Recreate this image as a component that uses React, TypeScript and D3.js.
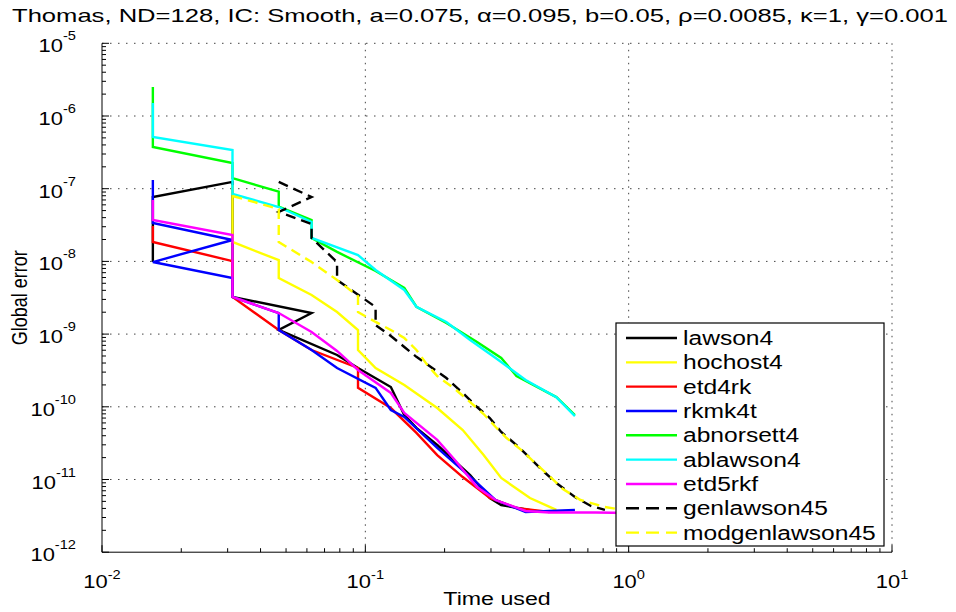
import React from "react";
import * as d3 from "d3";

// time used (s) and global error, one pair of arrays per method
const lawson4T = [0.0156, 0.0156, 0.0313, 0.0313, 0.0625, 0.0469, 0.0781, 0.0938, 0.125, 0.1406, 0.1563, 0.1875, 0.25, 0.2969, 0.3281, 0.4375, 0.5];
const lawson4E = [9.8e-9, 7.69e-8, 1.24e-7, 3.24e-9, 1.95e-9, 1.14e-9, 5.16e-10, 3.42e-10, 1.87e-10, 7.71e-11, 5.12e-11, 2.98e-11, 1.15e-11, 5.57e-12, 4.46e-12, 3.69e-12, 3.6e-12];

const hochost4T = [0.0313, 0.0313, 0.0469, 0.0469, 0.0625, 0.0781, 0.0938, 0.0938, 0.1094, 0.1406, 0.1875, 0.2344, 0.2813, 0.3281, 0.4219, 0.5313];
const hochost4E = [1.12e-7, 1.85e-8, 1.04e-8, 5.92e-9, 3.45e-9, 2.01e-9, 1.14e-9, 6.04e-10, 3.42e-10, 2.0e-10, 9.62e-11, 4.79e-11, 2.17e-11, 1.05e-11, 5.57e-12, 3.81e-12];

const etd4rkT = [0.0156, 0.0156, 0.0313, 0.0313, 0.0469, 0.0625, 0.0938, 0.0938, 0.125, 0.1563, 0.1875, 0.2344, 0.2969, 0.375, 0.5];
const etd4rkE = [3.07e-8, 1.85e-8, 1.01e-8, 3.24e-9, 1.14e-9, 6.04e-10, 3.42e-10, 1.82e-10, 9.62e-11, 4.37e-11, 2.17e-11, 1.08e-11, 5.57e-12, 4.06e-12, 3.57e-12];

const rkmk4tT = [0.0156, 0.0156, 0.0313, 0.0156, 0.0313, 0.0313, 0.0469, 0.0469, 0.0625, 0.0781, 0.1094, 0.125, 0.1406, 0.1875, 0.2656, 0.3125, 0.4063, 0.5, 0.625];
const rkmk4tE = [1.32e-7, 3.37e-8, 1.97e-8, 9.8e-9, 5.92e-9, 3.24e-9, 1.95e-9, 1.14e-9, 6.04e-10, 3.42e-10, 1.82e-10, 9.04e-11, 7.24e-11, 2.72e-11, 8.96e-12, 5.22e-12, 3.57e-12, 3.69e-12, 3.81e-12];

const abnorsett4T = [0.0156, 0.0156, 0.0313, 0.0313, 0.0469, 0.0469, 0.0625, 0.0625, 0.0781, 0.1094, 0.1406, 0.1563, 0.2031, 0.2656, 0.3281, 0.375, 0.5313, 0.625];
const abnorsett4E = [2.51e-6, 3.75e-7, 2.25e-7, 1.4e-7, 9.1e-8, 5.65e-8, 3.71e-8, 2.1e-8, 1.35e-8, 7.38e-9, 4.31e-9, 2.38e-9, 1.42e-9, 7.78e-10, 4.69e-10, 2.65e-10, 1.36e-10, 7.71e-11];

const ablawson4T = [0.0156, 0.0156, 0.0313, 0.0313, 0.0469, 0.0625, 0.0625, 0.0938, 0.1094, 0.1406, 0.1563, 0.2031, 0.25, 0.3125, 0.4063, 0.5313, 0.625];
const ablawson4E = [1.51e-6, 5.14e-7, 3.4e-7, 8.45e-8, 5.6e-8, 3.48e-8, 2.1e-8, 1.22e-8, 7.62e-9, 4.05e-9, 2.38e-9, 1.47e-9, 8.3e-10, 4.69e-10, 2.34e-10, 1.36e-10, 7.46e-11];

const etd5rkfT = [0.0156, 0.0156, 0.0313, 0.0313, 0.0469, 0.0625, 0.0781, 0.0938, 0.125, 0.1406, 0.1875, 0.2188, 0.2656, 0.3125, 0.4063, 0.5, 0.75, 1.0];
const etd5rkfE = [7.0e-8, 3.71e-8, 2.31e-8, 3.24e-9, 1.95e-9, 1.07e-9, 5.86e-10, 3.21e-10, 1.55e-10, 8.22e-11, 3.5e-11, 1.86e-11, 7.88e-12, 5.22e-12, 3.69e-12, 3.52e-12, 3.52e-12, 3.46e-12];

const genlawson45T = [0.0469, 0.0625, 0.0469, 0.0625, 0.0625, 0.0781, 0.0781, 0.1094, 0.1094, 0.125, 0.1406, 0.1563, 0.2031, 0.2344, 0.2656, 0.2969, 0.3281, 0.375, 0.4219, 0.4688, 0.5313, 0.625, 0.7188, 0.8125];
const genlawson45E = [1.24e-7, 7.69e-8, 4.79e-8, 3.27e-8, 2.1e-8, 9.8e-9, 5.55e-9, 2.36e-9, 1.33e-9, 9.42e-10, 6.65e-10, 4.87e-10, 2.49e-10, 1.55e-10, 9.93e-11, 7.01e-11, 4.5e-11, 2.98e-11, 1.98e-11, 1.35e-11, 8.96e-12, 5.74e-12, 4.33e-12, 3.81e-12];

const modgenlawson45T = [0.0313, 0.0469, 0.0469, 0.0625, 0.0781, 0.0938, 0.0938, 0.1094, 0.125, 0.1406, 0.1563, 0.1719, 0.1875, 0.2188, 0.25, 0.2813, 0.3125, 0.3438, 0.3906, 0.4375, 0.5, 0.5625, 0.6563, 0.8125, 1.0];
const modgenlawson45E = [7.94e-8, 5.26e-8, 1.85e-8, 9.8e-9, 5.55e-9, 3.33e-9, 2.01e-9, 1.47e-9, 1.14e-9, 8.83e-10, 6.04e-10, 3.76e-10, 2.65e-10, 1.76e-10, 1.16e-10, 7.96e-11, 5.27e-11, 3.72e-11, 2.55e-11, 1.74e-11, 1.12e-11, 7.4e-12, 5.22e-12, 4.19e-12, 3.69e-12];

const xExps = [-2, -1, 0, 1];
const yExps = [-12, -11, -10, -9, -8, -7, -6, -5];

const title = "Thomas, ND=128, IC: Smooth, a=0.075, \u03b1=0.095, b=0.05, \u03c1=0.0085, \u03ba=1, \u03b3=0.001";

const series = [
  { name: "lawson4", t: lawson4T, e: lawson4E, color: "#000000", dashed: false },
  { name: "hochost4", t: hochost4T, e: hochost4E, color: "#ffff00", dashed: false },
  { name: "etd4rk", t: etd4rkT, e: etd4rkE, color: "#ff0000", dashed: false },
  { name: "rkmk4t", t: rkmk4tT, e: rkmk4tE, color: "#0000ff", dashed: false },
  { name: "abnorsett4", t: abnorsett4T, e: abnorsett4E, color: "#00ff00", dashed: false },
  { name: "ablawson4", t: ablawson4T, e: ablawson4E, color: "#00ffff", dashed: false },
  { name: "etd5rkf", t: etd5rkfT, e: etd5rkfE, color: "#ff00ff", dashed: false },
  { name: "genlawson45", t: genlawson45T, e: genlawson45E, color: "#000000", dashed: true },
  { name: "modgenlawson45", t: modgenlawson45T, e: modgenlawson45E, color: "#ffff00", dashed: true },
];

const FONT = "Liberation Sans, Arial, Helvetica, sans-serif";
const SX = 1.22; // the reference text is a bit wide

export default function App() {
  const left = 102, right = 892, top = 43.3, bottom = 552.2;
  const x = d3.scaleLog().domain([1e-2, 1e1]).range([left, right]);
  const y = d3.scaleLog().domain([1e-12, 1e-5]).range([bottom, top]);
  const line = d3.line<number>();

  const xMinor: number[] = [];
  xExps.slice(0, -1).forEach((p) => d3.range(2, 10).forEach((m) => xMinor.push(m * Math.pow(10, p))));
  const yMinor: number[] = [];
  yExps.slice(0, -1).forEach((p) => d3.range(2, 10).forEach((m) => yMinor.push(m * Math.pow(10, p))));

  const legX = 616, legY = 323, legW = 268, legH = 223, legStep = 24.33;

  return (
    <svg width={956} height={612} style={{ position: "absolute", left: 0, top: 0, background: "#fff" }} fontFamily={FONT}>
      <rect width={956} height={612} fill="#fff" />

      {/* dotted grid */}
      {xExps.slice(1).map((p) => (
        <line key={"gx" + p} x1={x(Math.pow(10, p))} x2={x(Math.pow(10, p))} y1={top} y2={bottom}
          stroke="#444" strokeWidth={1} strokeDasharray="1.5 5" />
      ))}
      {yExps.slice(1).map((p) => (
        <line key={"gy" + p} x1={left} x2={right} y1={y(Math.pow(10, p))} y2={y(Math.pow(10, p))}
          stroke="#444" strokeWidth={1} strokeDasharray="1.5 6.5" />
      ))}

      {/* axes */}
      <line x1={left} x2={left} y1={top} y2={bottom} stroke="#000" strokeWidth={1} />
      <line x1={left} x2={right} y1={bottom} y2={bottom} stroke="#000" strokeWidth={1} />
      {xExps.map((p) => (
        <line key={"xt" + p} x1={x(Math.pow(10, p))} x2={x(Math.pow(10, p))} y1={bottom} y2={bottom - 7} stroke="#000" />
      ))}
      {xMinor.map((v, i) => (
        <line key={"xm" + i} x1={x(v)} x2={x(v)} y1={bottom} y2={bottom - 4} stroke="#000" />
      ))}
      {yExps.map((p) => (
        <line key={"yt" + p} x1={left} x2={left + 7} y1={y(Math.pow(10, p))} y2={y(Math.pow(10, p))} stroke="#000" />
      ))}
      {yMinor.map((v, i) => (
        <line key={"ym" + i} x1={left} x2={left + 4} y1={y(v)} y2={y(v)} stroke="#000" />
      ))}

      {/* tick labels */}
      {xExps.map((p) => (
        <text key={"xl" + p} transform={`translate(${x(Math.pow(10, p))},588) scale(${SX},1)`} textAnchor="middle" fontSize={18}>
          10<tspan dy={-9} fontSize={12}>{String(p)}</tspan>
        </text>
      ))}
      {yExps.map((p) => (
        <text key={"yl" + p} transform={`translate(76,${y(Math.pow(10, p)) + 9}) scale(${SX},1)`} textAnchor="end" fontSize={18}>
          10<tspan dy={-12} fontSize={12}>{String(p)}</tspan>
        </text>
      ))}

      {/* series */}
      {series.map((s) => (
        <path key={s.name}
          d={line.x((_, i) => x(s.t[i])).y((v) => y(v))(s.e) || ""}
          fill="none" stroke={s.color} strokeWidth={2.4}
          strokeDasharray={s.dashed ? "10 6" : undefined} />
      ))}

      {/* titles */}
      <text x={12} y={22} fontSize={19} textLength={936} lengthAdjust="spacingAndGlyphs">{title}</text>
      <text transform={`translate(${(left + right) / 2},605) scale(${SX},1)`} textAnchor="middle" fontSize={19}>Time used</text>
      <text transform={`translate(27,${(top + bottom) / 2}) scale(${SX},1) rotate(-90)`} textAnchor="middle" fontSize={18}>Global error</text>

      {/* legend */}
      <rect x={legX} y={legY} width={legW} height={legH} fill="#fff" stroke="#000" strokeWidth={1.2} />
      {series.map((s, i) => {
        const cy = legY + 15 + i * legStep;
        return (
          <g key={"lg" + s.name}>
            <line x1={626} x2={677} y1={cy} y2={cy} stroke={s.color} strokeWidth={2.4}
              strokeDasharray={s.dashed ? "13 7" : undefined} />
            <text transform={`translate(683,${cy + 7}) scale(1.23,1)`} fontSize={20}>{s.name}</text>
          </g>
        );
      })}
    </svg>
  );
}
